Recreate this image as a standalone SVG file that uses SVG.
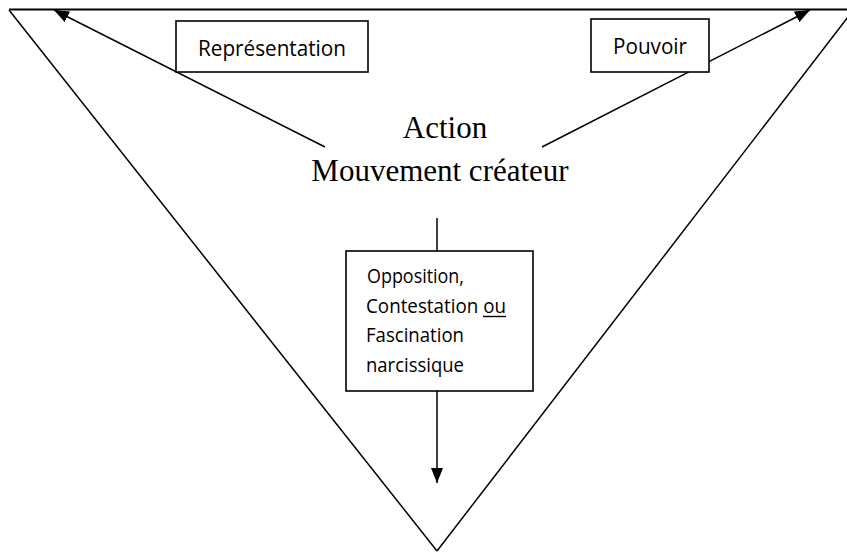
<svg xmlns="http://www.w3.org/2000/svg" width="847" height="553" viewBox="0 0 847 553">
<style>
.ln{stroke:#000;stroke-width:1.5;fill:none}
.box{fill:#fff;stroke:#000;stroke-width:1.6}
.lbl{font-family:"Open Sans","Noto Sans",sans-serif;font-size:20px;fill:#000}
.top{font-size:21px}
.ttl{font-family:"Liberation Serif","Times New Roman",serif;font-size:31px;fill:#000;text-anchor:middle}
</style>
<defs>
<marker id="ah" markerUnits="userSpaceOnUse" markerWidth="16" markerHeight="12" refX="15" refY="6" orient="auto">
<path d="M0,0 L15,6 L0,12 Z" fill="#000"/>
</marker>
</defs>
<g id="triangle">
<line class="ln" x1="9" y1="10" x2="437" y2="551"/>
<line class="ln" x1="437" y1="551" x2="858" y2="4"/>
<line x1="9" y1="9.5" x2="847" y2="9.5" stroke="#000" stroke-width="2"/>
</g>
<g id="connectors">
<line class="ln" x1="325" y1="147" x2="54" y2="10" marker-end="url(#ah)"/>
<line class="ln" x1="542" y1="147" x2="810" y2="10" marker-end="url(#ah)"/>
<line class="ln" x1="437" y1="218" x2="437" y2="251"/>
<line class="ln" x1="437" y1="391" x2="437" y2="483" marker-end="url(#ah)"/>
</g>
<g id="representation">
<rect class="box" x="176" y="21" width="192" height="51"/>
<text class="lbl top" x="198" y="56" textLength="148" lengthAdjust="spacingAndGlyphs">Représentation</text>
</g>
<g id="pouvoir">
<rect class="box" x="591" y="19" width="118" height="53"/>
<text class="lbl top" x="613" y="54" textLength="74" lengthAdjust="spacingAndGlyphs">Pouvoir</text>
</g>
<g id="action">
<text class="ttl" x="445" y="138">Action</text>
<text class="ttl" x="440" y="181">Mouvement créateur</text>
</g>
<g id="opposition">
<rect class="box" x="346" y="251" width="187" height="140"/>
<text class="lbl" x="367" y="283" textLength="97" lengthAdjust="spacingAndGlyphs">Opposition,</text>
<text class="lbl" x="366" y="313" textLength="140" lengthAdjust="spacingAndGlyphs">Contestation ou</text>
<line x1="483" y1="316.5" x2="506" y2="316.5" stroke="#000" stroke-width="1.4"/>
<text class="lbl" x="366" y="342" textLength="98" lengthAdjust="spacingAndGlyphs">Fascination</text>
<text class="lbl" x="366" y="372" textLength="98" lengthAdjust="spacingAndGlyphs">narcissique</text>
</g>
</svg>
